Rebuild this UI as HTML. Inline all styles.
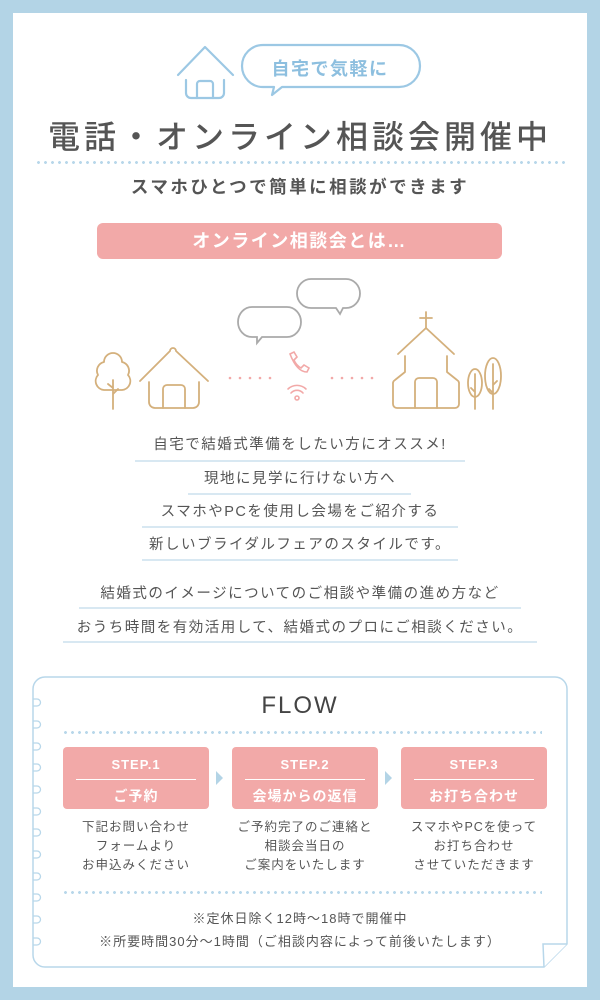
<!DOCTYPE html>
<html><head><meta charset="utf-8"><style>
*{margin:0;padding:0;box-sizing:border-box}
body{width:600px;height:1000px;background:#b3d4e6;position:relative;overflow:hidden;font-family:"Liberation Sans","Noto Sans CJK JP",sans-serif;color:#555}
#page{position:absolute;left:13px;top:13px;width:574px;height:974px;background:#fff}
.t{position:absolute;left:0;width:600px;text-align:center;white-space:nowrap}
.ul{position:absolute;height:2px;background:#d8e8f2}
.dots{position:absolute;height:3px;background-image:radial-gradient(circle,#b8d7ea 1.3px,transparent 1.6px);background-size:7px 3px}
.step{position:absolute;top:747px;width:146px;height:62px;background:#f2a9a8;border-radius:4px;color:#fff;text-align:center}
.step .s{font-size:13px;font-weight:bold;letter-spacing:1px;margin-top:10px;line-height:16px}
.step .l{height:1px;background:#fff;margin:6px 13px 0}
.step .j{font-size:14px;font-weight:bold;letter-spacing:1px;margin-top:6px}
.desc{position:absolute;top:818px;width:146px;text-align:center;font-size:12.5px;line-height:19px;letter-spacing:1px;color:#555}
.arr{position:absolute;top:771px;width:0;height:0;border-top:7px solid transparent;border-bottom:7px solid transparent;border-left:7px solid #b3d4e6}
</style></head><body>
<div id="page"></div>
<svg style="position:absolute;left:0;top:0" width="600" height="1000">
 <g fill="none" stroke="#9cc8e4" stroke-width="2.2" stroke-linecap="round" stroke-linejoin="round">
  <path d="M178 75 L205 47 L233 75"/>
  <path d="M186 80 V93 a5 5 0 0 0 5 5 H219 a5 5 0 0 0 5 -5 V80"/>
  <path d="M197 98 V84 a3 3 0 0 1 3 -3 H210 a3 3 0 0 1 3 3 V98"/>
  <path d="M263 45 H399 a21 21 0 0 1 0 42 H282 L272 95 L274 87 H263 a21 21 0 0 1 0 -42 Z"/>
 </g>
 <g fill="none" stroke="#aaa" stroke-width="1.8">
  <path d="M252 307 H287 a14 15 0 0 1 0 30 H262 L257 343 V337 H252 a14 15 0 0 1 0 -30 Z"/>
  <path d="M311 279 H346 a14 14.5 0 0 1 0 29 H343 L340 314 L336 308 H311 a14 14.5 0 0 1 0 -29 Z"/>
 </g>
 <g fill="none" stroke="#d4b07c" stroke-width="1.8" stroke-linecap="round" stroke-linejoin="round">
  <path d="M113 409 V380 M113 388 L108 384 M113 394 L118 389"/>
  <path d="M104 390 a9 9 0 0 1 -6 -15 a9 9 0 0 1 6 -13 a9 9 0 0 1 18 0 a9 9 0 0 1 6 13 a9 9 0 0 1 -6 15 Z"/>
  <path d="M140 381 L170 351 a3 3 0 0 1 6 0 L208 381"/>
  <path d="M149 382 V402 a6 6 0 0 0 6 6 H193 a6 6 0 0 0 6 -6 V382"/>
  <path d="M163 408 V389 a4 4 0 0 1 4 -4 H181 a4 4 0 0 1 4 4 V408"/>
  <path d="M426 312 V328 M420 318 H432"/>
  <path d="M398 354 L426 328 L454 354"/>
  <path d="M405 356 V372 L395 380 a4 4 0 0 0 -2 4 V404 a4 4 0 0 0 4 4 H455 a4 4 0 0 0 4 -4 V384 a4 4 0 0 0 -2 -4 L447 372 V356"/>
  <path d="M415 408 V382 a4 4 0 0 1 4 -4 H433 a4 4 0 0 1 4 4 V408"/>
  <ellipse cx="475" cy="383" rx="7" ry="14"/><path d="M475 409 V374 M475 392 L471 388"/>
  <ellipse cx="493" cy="376" rx="8" ry="18"/><path d="M493 409 V364 M493 385 L497 381 M493 393 L489 389"/>
 </g>
 <g fill="#f2a9a8">
  <circle cx="230" cy="378" r="1.3"/><circle cx="240" cy="378" r="1.3"/><circle cx="250" cy="378" r="1.3"/><circle cx="260" cy="378" r="1.3"/><circle cx="270" cy="378" r="1.3"/>
  <circle cx="332" cy="378" r="1.3"/><circle cx="342" cy="378" r="1.3"/><circle cx="352" cy="378" r="1.3"/><circle cx="362" cy="378" r="1.3"/><circle cx="372" cy="378" r="1.3"/>
 </g>
 <g fill="none" stroke="#f2a9a8" stroke-width="1.6" stroke-linecap="round">
  <path d="M290 354 l4 -2 l3 5 l-3 3 q2 5 7 8 l3 -3 l5 3 l-2 4 q-10 0 -17 -18 Z"/>
  <path d="M288 389 a13 13 0 0 1 18 0 M291 393 a8 8 0 0 1 12 0"/>
  <circle cx="297" cy="398" r="2"/>
 </g>
 <path d="M45 677 H555 a12 12 0 0 1 12 12 V944 L544 967 H45 a12 12 0 0 1 -12 -12 V689 a12 12 0 0 1 12 -12 Z" fill="#fff" stroke="#b8d7ea" stroke-width="1.5"/>
 <path d="M567 944 L543 944 L544 967" fill="#fff" stroke="#b8d7ea" stroke-width="1.5"/>
 <g fill="none" stroke="#b8d7ea" stroke-width="1.3">
  <path d="M33 699 h4 a3.5 3.5 0 0 1 0 7 h-4 M33 721 h4 a3.5 3.5 0 0 1 0 7 h-4 M33 743 h4 a3.5 3.5 0 0 1 0 7 h-4 M33 764 h4 a3.5 3.5 0 0 1 0 7 h-4 M33 786 h4 a3.5 3.5 0 0 1 0 7 h-4 M33 808 h4 a3.5 3.5 0 0 1 0 7 h-4 M33 829 h4 a3.5 3.5 0 0 1 0 7 h-4 M33 851 h4 a3.5 3.5 0 0 1 0 7 h-4 M33 873 h4 a3.5 3.5 0 0 1 0 7 h-4 M33 894 h4 a3.5 3.5 0 0 1 0 7 h-4 M33 916 h4 a3.5 3.5 0 0 1 0 7 h-4 M33 938 h4 a3.5 3.5 0 0 1 0 7 h-4"/>
 </g>
</svg>
<div class="t" style="top:55px;left:30px;font-size:18px;color:#8dbfdf;font-weight:bold;letter-spacing:1.5px">自宅で気軽に</div>
<div class="t" style="top:112px;font-size:32px;font-weight:500;color:#555;letter-spacing:4px">電話・オンライン相談会開催中</div>
<div class="dots" style="left:35px;top:161px;width:532px"></div>
<div class="t" style="top:174px;font-size:17.5px;font-weight:bold;color:#555;letter-spacing:2.5px">スマホひとつで簡単に相談ができます</div>
<div style="position:absolute;left:97px;top:223px;width:405px;height:36px;background:#f2a9a8;border-radius:6px;color:#fff;font-size:18px;font-weight:bold;text-align:center;line-height:36px;letter-spacing:1.5px">オンライン相談会とは…</div>
<div class="t" style="top:433px;font-size:14.5px;letter-spacing:1.5px">自宅で結婚式準備をしたい方にオススメ!</div><div class="ul" style="left:135px;top:460px;width:330px"></div>
<div class="t" style="top:467px;font-size:14.5px;letter-spacing:1.5px">現地に見学に行けない方へ</div><div class="ul" style="left:188px;top:493px;width:223px"></div>
<div class="t" style="top:500px;font-size:14.5px;letter-spacing:1.5px">スマホやPCを使用し会場をご紹介する</div><div class="ul" style="left:142px;top:526px;width:316px"></div>
<div class="t" style="top:533px;font-size:14.5px;letter-spacing:1.5px">新しいブライダルフェアのスタイルです。</div><div class="ul" style="left:142px;top:559px;width:316px"></div>
<div class="t" style="top:582px;font-size:14.5px;letter-spacing:1.5px">結婚式のイメージについてのご相談や準備の進め方など</div><div class="ul" style="left:79px;top:607px;width:442px"></div>
<div class="t" style="top:616px;font-size:14.5px;letter-spacing:1.5px">おうち時間を有効活用して、結婚式のプロにご相談ください。</div><div class="ul" style="left:63px;top:641px;width:474px"></div>
<div class="t" style="top:692px;font-size:24px;font-weight:500;color:#444;letter-spacing:2px">FLOW</div>
<div class="dots" style="left:62px;top:731px;width:480px"></div>
<div class="step" style="left:63px"><div class="s">STEP.1</div><div class="l"></div><div class="j">ご予約</div></div>
<div class="arr" style="left:216px"></div>
<div class="step" style="left:232px"><div class="s">STEP.2</div><div class="l"></div><div class="j">会場からの返信</div></div>
<div class="arr" style="left:385px"></div>
<div class="step" style="left:401px"><div class="s">STEP.3</div><div class="l"></div><div class="j">お打ち合わせ</div></div>
<div class="desc" style="left:63px">下記お問い合わせ<br>フォームより<br>お申込みください</div>
<div class="desc" style="left:224px;width:162px">ご予約完了のご連絡と<br>相談会当日の<br>ご案内をいたします</div>
<div class="desc" style="left:393px;width:162px">スマホやPCを使って<br>お打ち合わせ<br>させていただきます</div>
<div class="dots" style="left:62px;top:891px;width:480px"></div>
<div class="t" style="top:908px;font-size:13px;letter-spacing:1px">※定休日除く12時〜18時で開催中</div>
<div class="t" style="top:931px;font-size:13px;letter-spacing:1px">※所要時間30分〜1時間（ご相談内容によって前後いたします）</div>
</body></html>
